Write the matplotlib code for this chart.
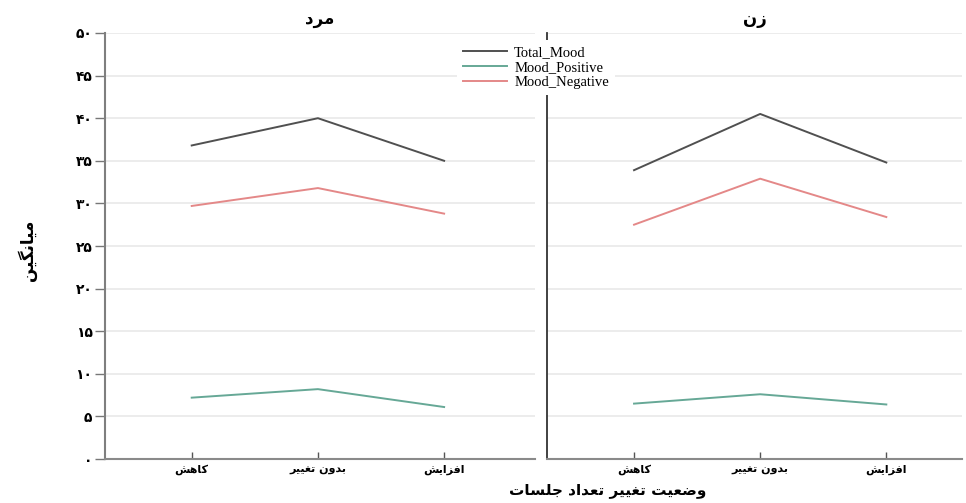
import matplotlib
matplotlib.use("Agg")
import matplotlib.pyplot as plt

# mean mood scores by change in session count, per gender panel
groups = ["مرد", "زن"]
sessions = ["کاهش", "بدون تغییر", "افزایش"]
series = ["Total_Mood", "Mood_Positive", "Mood_Negative"]
total_mood = [[36.8, 40.0, 35.0], [33.9, 40.5, 34.8]]
mood_positive = [[7.2, 8.2, 6.1], [6.5, 7.6, 6.4]]
mood_negative = [[29.7, 31.8, 28.8], [27.5, 32.9, 28.4]]
y_ticks = [0, 5, 10, 15, 20, 25, 30, 35, 40, 45, 50]
y_tick_labels = ["۰", "۵", "۱۰", "۱۵", "۲۰", "۲۵", "۳۰", "۳۵", "۴۰", "۴۵", "۵۰"]
x_title = "وضعیت تغییر تعداد جلسات"
y_title = "میانگین"

colors = ["#505050", "#66a896", "#e48888"]

# presentation forms: isolated, final, initial, medial (None -> right-joining only)
FORMS = {
    "ا": ("\uFE8D", "\uFE8E", None, None),
    "ب": ("\uFE8F", "\uFE90", "\uFE91", "\uFE92"),
    "ت": ("\uFE95", "\uFE96", "\uFE97", "\uFE98"),
    "ج": ("\uFE9D", "\uFE9E", "\uFE9F", "\uFEA0"),
    "د": ("\uFEA9", "\uFEAA", None, None),
    "ر": ("\uFEAD", "\uFEAE", None, None),
    "ز": ("\uFEAF", "\uFEB0", None, None),
    "س": ("\uFEB1", "\uFEB2", "\uFEB3", "\uFEB4"),
    "ش": ("\uFEB5", "\uFEB6", "\uFEB7", "\uFEB8"),
    "ض": ("\uFEBD", "\uFEBE", "\uFEBF", "\uFEC0"),
    "ع": ("\uFEC9", "\uFECA", "\uFECB", "\uFECC"),
    "غ": ("\uFECD", "\uFECE", "\uFECF", "\uFED0"),
    "ف": ("\uFED1", "\uFED2", "\uFED3", "\uFED4"),
    "ل": ("\uFEDD", "\uFEDE", "\uFEDF", "\uFEE0"),
    "م": ("\uFEE1", "\uFEE2", "\uFEE3", "\uFEE4"),
    "ن": ("\uFEE5", "\uFEE6", "\uFEE7", "\uFEE8"),
    "ه": ("\uFEE9", "\uFEEA", "\uFEEB", "\uFEEC"),
    "و": ("\uFEED", "\uFEEE", None, None),
    "ک": ("\uFB8E", "\uFB8F", "\uFB90", "\uFB91"),
    "گ": ("\uFB92", "\uFB93", "\uFB94", "\uFB95"),
    "ی": ("\uFBFC", "\uFBFD", "\uFBFE", "\uFBFF"),
}


def fa(s):
    out = []
    for i, ch in enumerate(s):
        if ch not in FORMS:
            out.append(ch)
            continue
        prev = s[i - 1] if i > 0 else ""
        nxt = s[i + 1] if i + 1 < len(s) else ""
        iso, fin, ini, med = FORMS[ch]
        j_prev = prev in FORMS and FORMS[prev][2] is not None
        j_next = ini is not None and nxt in FORMS
        if j_prev and j_next:
            out.append(med)
        elif j_prev:
            out.append(fin)
        elif j_next:
            out.append(ini)
        else:
            out.append(iso)
    return "".join(reversed(out))


plt.rcParams["font.family"] = ["DejaVu Sans"]
W, H = 966, 503
fig = plt.figure(figsize=(W / 100, H / 100), dpi=100, facecolor="white")

boxes = [(105, 535, -0.687, 2.72), (547, 962, -0.69, 2.60)]
x = list(range(len(sessions)))
axes = []
for gi, (x0, x1, lo, hi) in enumerate(boxes):
    ax = fig.add_axes([x0 / W, 44 / H, (x1 - x0) / W, 426 / H])
    axes.append(ax)
    for si, vals in enumerate([total_mood, mood_positive, mood_negative]):
        ax.plot(x, vals[gi], color=colors[si], lw=1.4, label=series[si])
    ax.set_xlim(lo, hi)
    ax.set_ylim(0, 50)
    ax.set_yticks(y_ticks)
    ax.yaxis.grid(True, color="#ebebeb", lw=1.3)
    ax.set_axisbelow(True)
    ax.set_xticks(x)
    ax.set_xticklabels([fa(s) for s in sessions], fontsize=8, fontweight="bold")
    ax.tick_params(axis="x", direction="in", length=5, width=1, color="#555555", pad=4)
    for side in ["top", "right"]:
        ax.spines[side].set_visible(False)
    ax.spines["bottom"].set_color("#8a8a8a")
    ax.spines["bottom"].set_linewidth(1.5)
    fig.text((x0 + x1) / 2 / W, 1 - 19 / H, fa(groups[gi]), ha="center", va="center",
             fontsize=12, fontweight="bold")

axes[0].set_yticklabels(y_tick_labels, fontsize=10, fontweight="bold")
axes[0].tick_params(axis="y", direction="out", length=7, width=1, color="#777777", pad=2)
axes[0].spines["left"].set_color("#7f7f7f")
axes[0].spines["left"].set_linewidth(1.5)
axes[1].tick_params(axis="y", length=0, labelleft=False)
axes[1].spines["left"].set_color("#333333")
axes[1].spines["left"].set_linewidth(1.3)

fig.text(27 / W, 1 - 250 / H, fa(y_title), rotation=90, ha="center", va="center",
         fontsize=12, fontweight="bold")
fig.text(608 / W, 1 - 491 / H, fa(x_title), ha="center", va="center",
         fontsize=11, fontweight="bold")

handles, labels = axes[0].get_legend_handles_labels()
fig.legend(handles, labels, loc="upper left", bbox_to_anchor=(450 / W, 1 - 33 / H),
           frameon=True, facecolor="white", edgecolor="none", framealpha=1,
           fancybox=False, prop={"family": "Liberation Serif", "size": 10.5},
           handlelength=3.0, handletextpad=0.5, labelspacing=0.1, borderpad=0.4)

fig.savefig("out.png", dpi=100, facecolor="white")
